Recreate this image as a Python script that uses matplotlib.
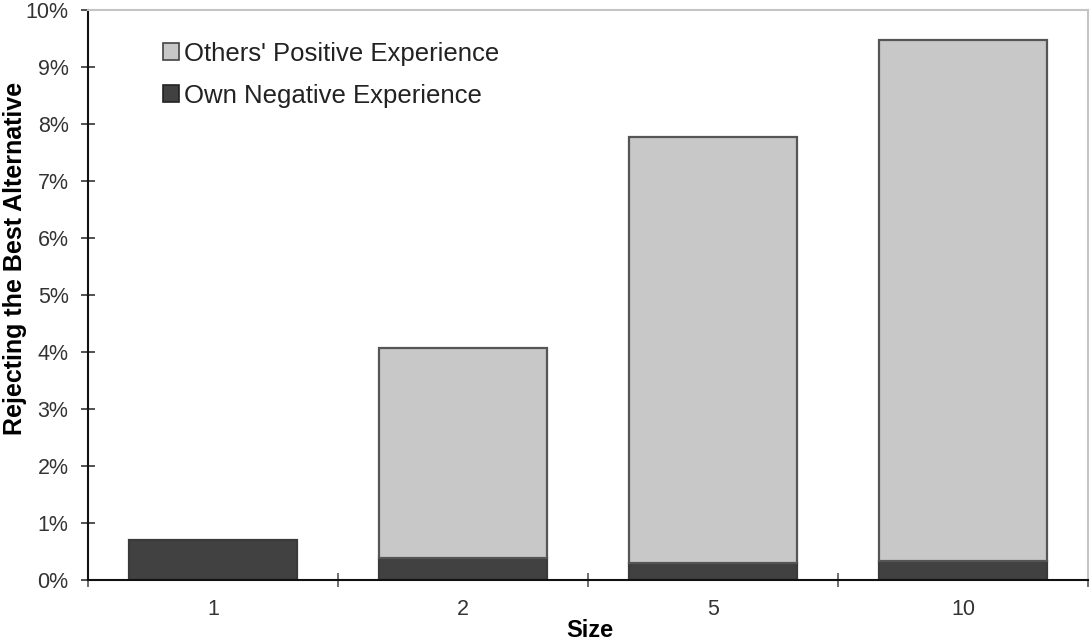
import matplotlib
matplotlib.use("Agg")
import matplotlib.pyplot as plt
from matplotlib.patches import Patch
from matplotlib.ticker import FuncFormatter, MultipleLocator

# Share of decisions rejecting the best alternative, by group size (in %)
sizes = ["1", "2", "5", "10"]
own_negative = [0.70, 0.38, 0.30, 0.33]
others_positive = [0.00, 3.69, 7.48, 9.14]

light = "#c8c8c8"
dark = "#414141"
edge = "#3a3a3a"

plt.rcParams["font.family"] = ["Liberation Sans", "DejaVu Sans"]

fig = plt.figure(figsize=(10.91, 6.41), dpi=100)
ax = fig.add_axes([88 / 1091, 61 / 641, 1000 / 1091, 570 / 641])

x = list(range(len(sizes)))
width = 0.67
ax.bar(x, own_negative, width=width, color=dark, edgecolor=edge, linewidth=1.6, zorder=2)
ax.bar([i for i in x if others_positive[i] > 0],
       [v for v in others_positive if v > 0], width=width,
       bottom=[own_negative[i] for i in x if others_positive[i] > 0],
       color=light, edgecolor="#555555", linewidth=1.6, zorder=2)

ax.set_xlim(-0.5, len(sizes) - 0.5)
ax.set_ylim(0, 10)
ax.yaxis.set_major_locator(MultipleLocator(1))
ax.yaxis.set_major_formatter(FuncFormatter(lambda v, p: f"{v:.0f}%"))

ax.set_xticks(x)
ax.set_xticklabels(sizes)
ax.set_xticks([i - 0.5 for i in range(len(sizes) + 1)], minor=True)
ax.tick_params(axis="x", which="major", length=0, pad=14, labelsize=15.5, colors="#333333")
ax.tick_params(axis="x", which="minor", direction="inout", length=10, width=1.2, color="#555555")
ax.tick_params(axis="y", direction="inout", length=10, width=1.2, labelsize=15.5,
               pad=9, colors="#333333")

for side in ("top", "right"):
    ax.spines[side].set_color("#c4c4c4")
    ax.spines[side].set_linewidth(1.5)
for side in ("left", "bottom"):
    ax.spines[side].set_color("#111111")
    ax.spines[side].set_linewidth(1.5)

ax.set_xlabel("Size", fontsize=17, fontweight="bold")
ax.xaxis.set_label_coords(0.502, -0.068)
ax.set_ylabel("Rejecting the Best Alternative", fontsize=18, fontweight="bold")
ax.yaxis.set_label_coords(-0.061, 0.565)

handles = [Patch(facecolor=light, edgecolor="#444444", linewidth=1.2),
           Patch(facecolor=dark, edgecolor="#222222", linewidth=1.2)]
ax.legend(handles, ["Others' Positive Experience", "Own Negative Experience"],
          loc="upper left", bbox_to_anchor=(0.052, 0.985), frameon=False,
          fontsize=18.5, handlelength=0.6, handleheight=0.6, handletextpad=0.2,
          labelspacing=0.7, labelcolor="#222222")

fig.savefig("out.png", dpi=100)
